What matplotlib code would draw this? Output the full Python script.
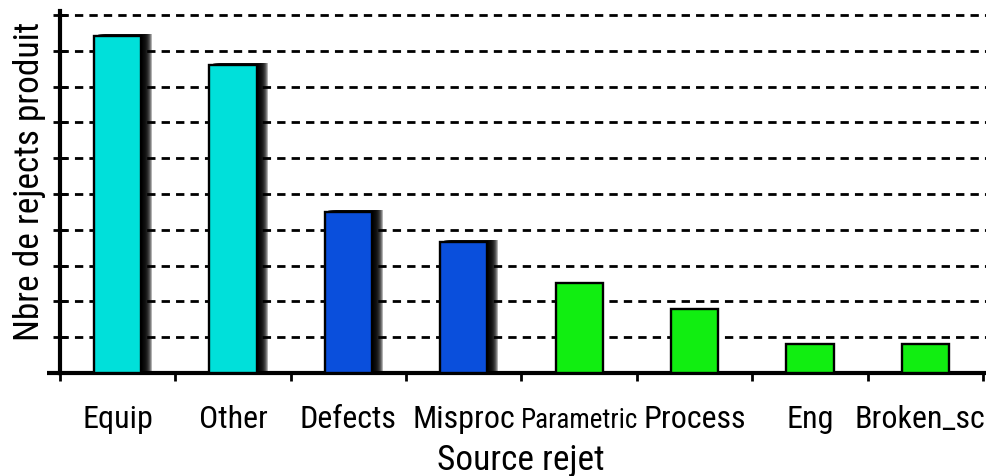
import numpy as np
import matplotlib.pyplot as plt
from matplotlib.lines import Line2D

categories = ['Equip', 'Other', 'Defects', 'Misproc', 'Parametric', 'Process', 'Eng', 'Broken_scr']
rejects = [9.4, 8.6, 4.5, 3.65, 2.5, 1.8, 0.8, 0.8]
bar_colors = ['#00e0da', '#00e0da', '#0a4fdc', '#0a4fdc',
              '#11ee11', '#11ee11', '#11ee11', '#11ee11']
has_shadow = [True, True, True, True, False, False, False, False]

plt.rcParams['font.family'] = ['Roboto Condensed', 'Liberation Sans', 'DejaVu Sans']

fig = plt.figure(figsize=(9.87, 4.77), dpi=100)
ax = fig.add_axes([60/987, 103/477, 927/987, 362/477])

x = np.arange(len(categories))
px = 1/115.4   # one pixel in data units along x
py = 1/35.8    # one pixel in data units along y
w = 0.41

# drop shadows (stacked translucent offsets, darkest next to the bar)
for i in x:
    if not has_shadow[i]:
        continue
    for k in range(1, 12):
        ax.bar(x[i] + k*px, rejects[i] + min(k, 4)*py*0.5, width=w, color='black',
               alpha=0.3, linewidth=0, zorder=2)

ax.bar(x, rejects, width=w, color=bar_colors, edgecolor='black', linewidth=1.7, zorder=3)

ax.set_xlim(-0.5, 7.535)
ax.set_ylim(0, 10.11)

ax.set_yticks(np.arange(1, 11))
ax.set_yticklabels([])
ax.tick_params(axis='y', direction='inout', length=10, width=2)
ax.yaxis.grid(True, linestyle=(0, (3, 2.2)), color='black', linewidth=2, zorder=1)
ax.set_axisbelow(True)

ax.set_xticks(np.arange(-0.5, 8, 1))
ax.set_xticklabels([])
ax.tick_params(axis='x', which='major', direction='out', length=6, width=2)
ax.set_xticks(x, minor=True)
ax.set_xticklabels(categories, minor=True, fontsize=23)
ax.tick_params(axis='x', which='minor', length=0, pad=39)
for lab in ax.get_xticklabels(minor=True):
    lab.set_verticalalignment('baseline')
ax.get_xticklabels(minor=True)[4].set_fontsize(19.5)

for s in ['top', 'right']:
    ax.spines[s].set_visible(False)
for s in ['left', 'bottom']:
    ax.spines[s].set_linewidth(3)
ax.add_line(Line2D([-13/927, 0], [0, 0], transform=ax.transAxes, lw=3,
                   color='black', clip_on=False, solid_capstyle='butt'))

fig.text(30/987, 1 - 181/477, 'Nbre de rejects produit', rotation=90,
         ha='center', va='center', fontsize=25.5)
fig.text(521/987, 1 - 461/477, 'Source rejet', ha='center', va='center', fontsize=25.5)

fig.savefig('out.png', dpi=100)
